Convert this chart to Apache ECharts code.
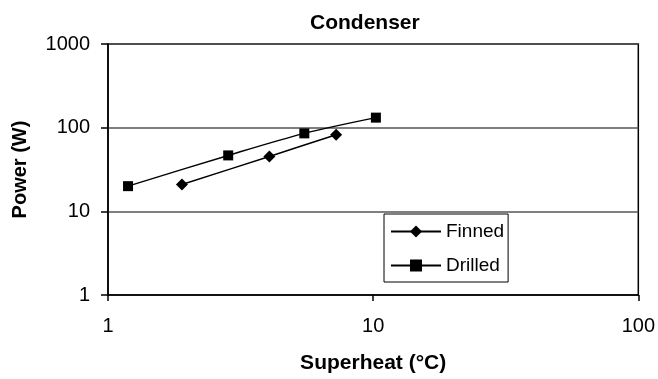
<!DOCTYPE html>
<html>
<head>
<meta charset="utf-8">
<script src="https://cdn.jsdelivr.net/npm/echarts@6/dist/echarts.min.js"></script>
<style>
html,body{margin:0;padding:0;background:#fff;}
#chart{width:658px;height:379px;}
</style>
</head>
<body>
<div id="chart"></div>
<script>
var titleText = 'Condenser';
var xAxisName = 'Superheat (°C)';
var yAxisName = 'Power (W)';
var seriesNames = ['Finned', 'Drilled'];
var finnedX = [1.90, 4.06, 7.25];
var finnedY = [20.9, 45.3, 82.4];
var drilledX = [1.19, 2.84, 5.50, 10.24];
var drilledY = [20.0, 46.6, 85.5, 131.8];

function pairs(xs, ys) { return xs.map(function (x, i) { return [x, ys[i]]; }); }
function plain(v) { return String(Math.round(v)); }

var FONT = '"Liberation Sans", Arial, Helvetica, sans-serif';
var chart = echarts.init(document.getElementById('chart'), null, {renderer: 'canvas'});
chart.setOption({
  animation: false,
  backgroundColor: '#fff',
  title: {
    text: titleText,
    left: 305, top: 8,
    textStyle: {fontFamily: FONT, fontSize: 21, fontWeight: 'bold', color: '#000'}
  },
  grid: {
    left: 108, right: 19, top: 44, bottom: 82,
    show: true, borderColor: '#000', borderWidth: 1.5, backgroundColor: 'transparent'
  },
  legend: {
    orient: 'vertical',
    left: 384, top: 214,
    padding: [8, 4, 7, 6],
    itemGap: 15,
    itemWidth: 50, itemHeight: 15,
    borderColor: '#000', borderWidth: 1,
    backgroundColor: '#fff',
    data: seriesNames,
    textStyle: {fontFamily: FONT, fontSize: 19, color: '#000'}
  },
  xAxis: {
    type: 'log', logBase: 10, min: 1, max: 100,
    name: xAxisName, nameLocation: 'middle', nameGap: 58,
    nameTextStyle: {fontFamily: FONT, fontSize: 21, fontWeight: 'bold', color: '#000'},
    axisLine: {show: true, lineStyle: {color: '#000', width: 1.5}},
    axisTick: {show: true, inside: false, interval: 0, length: 6, lineStyle: {color: '#000', width: 1.5}},
    minorTick: {show: false},
    axisLabel: {fontFamily: FONT, fontSize: 20, color: '#000', margin: 21, formatter: plain},
    splitLine: {show: false}
  },
  yAxis: {
    type: 'log', logBase: 10, min: 1, max: 1000,
    name: yAxisName, nameLocation: 'middle', nameGap: 78,
    nameTextStyle: {fontFamily: FONT, fontSize: 20, fontWeight: 'bold', color: '#000'},
    axisLine: {show: true, lineStyle: {color: '#000', width: 1.5}},
    axisTick: {show: true, inside: false, interval: 0, length: 7, lineStyle: {color: '#000', width: 1.5}},
    axisLabel: {fontFamily: FONT, fontSize: 20, color: '#000', margin: 18, formatter: plain},
    splitLine: {show: true, lineStyle: {color: '#555', width: 1.5}}
  },
  series: [
    {
      name: seriesNames[0], type: 'line', smooth: 0.3,
      data: pairs(finnedX, finnedY),
      symbol: 'diamond', symbolSize: 12,
      lineStyle: {color: '#000', width: 1.5},
      itemStyle: {color: '#000'}
    },
    {
      name: seriesNames[1], type: 'line', smooth: 0.3,
      data: pairs(drilledX, drilledY),
      symbol: 'rect', symbolSize: 10,
      lineStyle: {color: '#000', width: 1.5},
      itemStyle: {color: '#000'}
    }
  ]
});
</script>
</body>
</html>
